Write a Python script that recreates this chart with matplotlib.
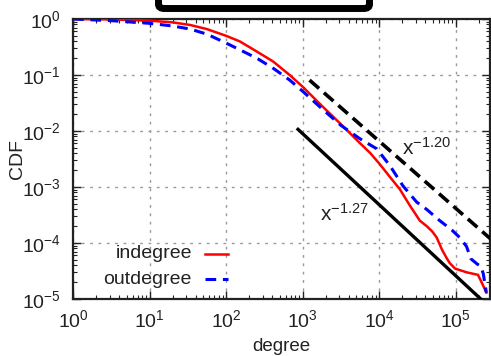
import matplotlib
matplotlib.use("Agg")
import matplotlib.pyplot as plt
from matplotlib.patches import FancyBboxPatch
from matplotlib.lines import Line2D

plt.rcParams['font.family'] = ['Liberation Sans', 'DejaVu Sans']
plt.rcParams['mathtext.fontset'] = 'custom'
plt.rcParams['mathtext.rm'] = 'Liberation Sans'
plt.rcParams['mathtext.it'] = 'Liberation Sans'
plt.rcParams['mathtext.bf'] = 'Liberation Sans:bold'
plt.rcParams['axes.unicode_minus'] = False

# ---- data ----
in_degree = [1, 3.2, 10, 20, 34, 56, 100, 151, 251, 412, 676, 1000, 1778, 3162,
             5623, 7586, 10000, 13800, 18600, 25100, 33900, 41700, 49000, 56200,
             66100, 75900, 83200, 97700, 138000, 195000, 219000, 251000]
in_cdf = [1.0, 0.982, 0.933, 0.871, 0.782, 0.661, 0.501, 0.398, 0.263, 0.174, 0.1,
          0.0617, 0.0282, 0.0132, 0.00603, 0.00407, 0.00263, 0.00151, 0.000912,
          0.000468, 0.000251, 0.0002, 0.000162, 0.000126, 7.6e-5, 5.4e-5, 4.4e-5,
          3.5e-5, 3.0e-5, 2.7e-5, 1.95e-5, 1.3e-5]

out_degree = [1, 3.2, 10, 20, 34, 56, 100, 151, 251, 412, 676, 1000, 1778, 3162,
              5623, 9330, 13800, 20400, 30900, 41700, 61700, 89100, 112000, 138000,
              158000, 191000, 214000, 229000, 251000]
out_cdf = [1.0, 0.933, 0.837, 0.75, 0.661, 0.537, 0.372, 0.282, 0.2, 0.132, 0.0813,
           0.0513, 0.0251, 0.0126, 0.00724, 0.00479, 0.0024, 0.00105, 0.000537,
           0.000398, 0.000251, 0.00017, 0.000126, 8.7e-5, 5.2e-5, 4.2e-5, 3.8e-5,
           2.8e-5, 1.3e-5]

fit120_x = [1230, 290000]
fit120_y = [0.081, 1.16e-4]
fit127_x = [870, 212000]
fit127_y = [0.0107, 1.0e-5]

series_labels = ["indegree", "outdegree"]
fit_labels = [r"$\mathregular{x^{-1.20}}$", r"$\mathregular{x^{-1.27}}$"]
fit_label_pos = [(42000, 5.0e-3), (3500, 3.3e-4)]

# ---- figure ----
W, H = 491, 356
fig = plt.figure(figsize=(W / 100, H / 100), dpi=100)
ax = fig.add_axes([73 / W, 1 - 299 / H, (490 - 73) / W, (299 - 19) / H])

ax.set_xscale('log')
ax.set_yscale('log')
ax.set_xlim(1, 2.8e5)
ax.set_ylim(1e-5, 1)

ax.grid(True, which='major', color='#999999', linestyle=(0, (2, 4)), linewidth=1.0)

ax.plot(fit120_x, fit120_y, color='black', linewidth=2.6, linestyle=(0, (3.5, 1.8)), zorder=3)
ax.plot(fit127_x, fit127_y, color='black', linewidth=2.4, zorder=3)
ax.plot(in_degree, in_cdf, color='red', linewidth=1.8, zorder=4)
ax.plot(out_degree, out_cdf, color='blue', linewidth=2.2, linestyle=(0, (3.5, 2.2)), zorder=4)

for lab, (xx, yy) in zip(fit_labels, fit_label_pos):
    ax.text(xx, yy, lab, fontsize=15, ha='center', va='center', color='#222222')

# legend (gnuplot style: text then sample)
rows_y = [0.161, 0.071]
styles = [dict(color='red', linewidth=1.8), dict(color='blue', linewidth=2.2, linestyle=(0, (3.5, 2.2)))]
for lab, yy, st in zip(series_labels, rows_y, styles):
    ax.text(0.285, yy, lab, transform=ax.transAxes, ha='right', va='center', fontsize=14, color='#222222')
    ax.add_line(Line2D([0.317, 0.372], [yy, yy], transform=ax.transAxes, **st))

ax.tick_params(which='both', direction='in', top=True, right=True, colors='#222222')
ax.tick_params(which='major', length=6, width=1.0, labelsize=14, pad=7)
ax.tick_params(which='minor', length=3, width=0.8)
ax.tick_params(axis='y', which='major', pad=9)
for s in ax.spines.values():
    s.set_linewidth(1.6)
    s.set_color('#222222')

ax.set_xlabel('degree', fontsize=13.5, labelpad=5, color='#222222')
ax.set_ylabel('CDF', fontsize=14, labelpad=-3, color='#222222')

box = FancyBboxPatch((158.5 / W, 1 - 8.5 / H), (369.5 - 158.5) / W, 0.1,
                     boxstyle="round,pad=0,rounding_size=0.012",
                     transform=fig.transFigure, facecolor='white', edgecolor='black',
                     linewidth=5, clip_on=False)
fig.patches.append(box)

fig.savefig('out.png', dpi=100)
